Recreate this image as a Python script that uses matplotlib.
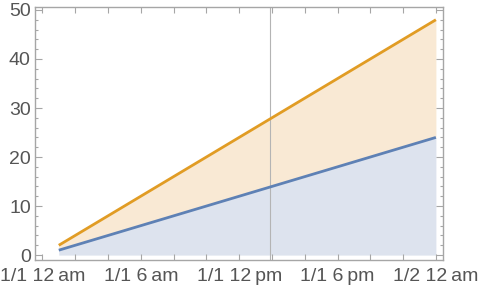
#Two hourly series with filled areas, Mathematica style frame
import numpy as np
import pandas as pd
import matplotlib
matplotlib.use('Agg')
import matplotlib.pyplot as plt
import matplotlib.dates as mdates

plt.rcParams['font.family'] = ['Liberation Sans', 'DejaVu Sans']

#Data: one value per hour from 1/1 1am to 1/2 12am
times = pd.date_range('2024-01-01 01:00', periods=24, freq='h')
series_low = [1, 2, 3, 4, 5, 6, 7, 8, 9, 10, 11, 12,
              13, 14, 15, 16, 17, 18, 19, 20, 21, 22, 23, 24]
series_high = [2, 4, 6, 8, 10, 12, 14, 16, 18, 20, 22, 24,
               26, 28, 30, 32, 34, 36, 38, 40, 42, 44, 46, 48]
marker_time = pd.Timestamp('2024-01-01 13:54')
y_ticks = [0, 10, 20, 30, 40, 50]

blue = '#5e81b5'
orange = '#e19c24'
frame_col = '#a6a6a6'
text_col = '#555555'

fig = plt.figure(figsize=(4.82, 2.93), dpi=100)
ax = fig.add_axes([35/482, 1 - 260/293, (443 - 35)/482, (260 - 7)/293])

ax.fill_between(times, 0, series_low, color='#dde3ee', linewidth=0)
ax.fill_between(times, series_low, series_high, color='#f9e9d4', linewidth=0)
ax.axvline(marker_time, color='#b4b4b4', linewidth=0.8)
ax.plot(times, series_low, color=blue, linewidth=2.0, solid_capstyle='butt')
ax.plot(times, series_high, color=orange, linewidth=2.0, solid_capstyle='butt')

start = pd.Timestamp('2024-01-01 00:00')
ax.set_xlim(start - pd.Timedelta(minutes=27), start + pd.Timedelta(hours=24, minutes=26))
ax.set_ylim(-1.0, 50.6)

def fmt_time(x, pos=None):
    t = mdates.num2date(x)
    h = t.hour % 12
    if h == 0:
        h = 12
    ampm = 'am' if t.hour < 12 else 'pm'
    return f'{t.month}/{t.day} {h}\u2009{ampm}'

ax.xaxis.set_major_locator(mdates.HourLocator(byhour=[0, 6, 12, 18]))
ax.xaxis.set_minor_locator(mdates.HourLocator(byhour=range(0, 24, 2)))
ax.xaxis.set_major_formatter(plt.FuncFormatter(fmt_time))
ax.set_yticks(y_ticks)
ax.yaxis.set_minor_locator(plt.MultipleLocator(2))

for side in ax.spines.values():
    side.set_color(frame_col)
    side.set_linewidth(1.0)

ax.tick_params(which='both', direction='in', top=True, right=True,
               color=frame_col, labelcolor=text_col, labelsize=14, width=0.8)
ax.tick_params(axis='x', which='major', length=4, pad=6)
ax.tick_params(axis='x', which='minor', length=4)
ax.tick_params(axis='y', which='major', length=5, pad=3)
ax.tick_params(axis='y', which='minor', length=2.5)

plt.savefig('out.png', dpi=100)
